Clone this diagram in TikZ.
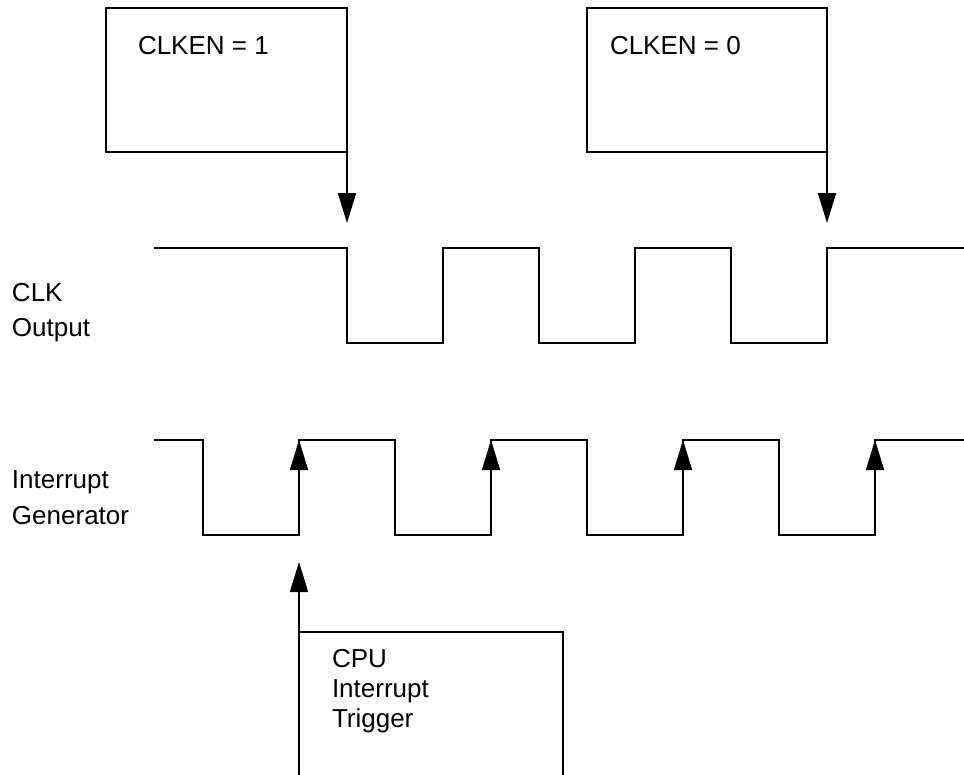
\documentclass[tikz,border=0pt]{standalone}
\usepackage{fontspec}
\setmainfont{Liberation Sans}
\usetikzlibrary{arrows.meta}
\tikzset{
  wire/.style={line width=1.6pt, line join=miter},
  boxline/.style={draw, line width=1.6pt, rectangle, inner sep=0pt, outer sep=0pt},
  arr/.style={line width=1.6pt, -{Triangle[length=30pt,width=18pt]}},
  txt/.style={anchor=base west, inner sep=0pt, outer sep=0pt, font=\fontsize{26}{30}\selectfont}
}
\begin{document}
\begin{tikzpicture}[x=1pt,y=-1pt]
\useasboundingbox (0,0) rectangle (964,774);
\clip (0,0) rectangle (964,774);
% enable boxes
\node[boxline, anchor=north west, minimum width=241pt, minimum height=144pt] (en1) at (106,8) {};
\node[txt] (en1t) at (138,54) {CLKEN = 1};
\node[boxline, anchor=north west, minimum width=240pt, minimum height=144pt] (en0) at (587,8) {};
\node[txt] (en0t) at (610,54) {CLKEN = 0};
\coordinate (t1) at (347,223);
\coordinate (t0) at (827,223);
\draw[arr] (en1.south east) -- (t1);
\draw[arr] (en0.south east) -- (t0);
% labels
\node[txt] (clk1) at (12,301) {CLK};
\node[txt] (clk2) at (12,336) {Output};
\node[txt] (ig1) at (12,488) {Interrupt};
\node[txt] (ig2) at (12,524) {Generator};
% CLK waveform
\draw[wire] (154,248) -- (347,248) -- (347,343) -- (443,343) -- (443,248) -- (539,248) -- (539,343) -- (635,343) -- (635,248) -- (731,248) -- (731,343) -- (827,343) -- (827,248) -- (966,248);
% Interrupt waveform
\draw[wire] (154,440) -- (203,440) -- (203,535) -- (299,535) -- (299,440) -- (395,440) -- (395,535) -- (491,535) -- (491,440) -- (587,440) -- (587,535) -- (683,535) -- (683,440) -- (779,440) -- (779,535) -- (875,535) -- (875,440) -- (966,440);
\foreach \x in {299,491,683,875}{
  \coordinate (lo\x) at (\x,535);
  \coordinate (hi\x) at (\x,440);
  \draw[arr] (lo\x) -- (hi\x);
}
% CPU interrupt trigger
\node[boxline, anchor=north west, minimum width=264pt, minimum height=160pt] (cpu) at (299,632) {};
\node[txt] (cpu1) at (332,667) {CPU};
\node[txt] (cpu2) at (332,697) {Interrupt};
\node[txt] (cpu3) at (332,727) {Trigger};
\coordinate (ct) at (299,562);
\coordinate (cb) at (299,780);
\draw[arr] (cb) -- (ct);
\end{tikzpicture}
\end{document}
